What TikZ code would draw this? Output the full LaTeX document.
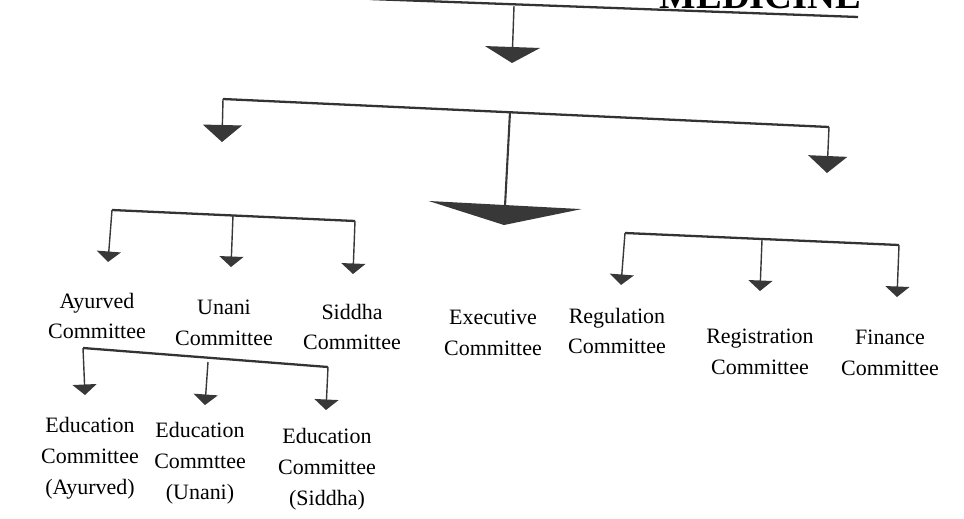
\documentclass[tikz,border=0pt]{standalone}
\usepackage{fontspec}
\setmainfont{Liberation Serif}
\usetikzlibrary{arrows.meta}

\begin{document}
\begin{tikzpicture}[x=0.02cm,y=-0.02cm]
            \tikzstyle{every node}=[align=center,inner sep=0pt,font=\fontsize{12.5}{17.5}\selectfont]
            \tikzstyle{bar}=[line width=1.3pt,draw=black!80]
            \tikzstyle{drop}=[line width=0.8pt,draw=black!78]
            \tikzstyle{tipsmall}=[drop,-{Triangle[width=0.48cm,length=0.21cm]}]
            \tikzstyle{tipside}=[drop,-{Triangle[width=0.78cm,length=0.34cm]}]
            \tikzstyle{tiphead}=[drop,-{Triangle[width=1.1cm,length=0.32cm]}]
            \tikzstyle{tipbig}=[drop,line width=1.2pt,-{Triangle[width=3.06cm,length=0.4cm]}]
            \useasboundingbox (0,0) rectangle (964,518);
            \clip (0,0) rectangle (964,518);
            % heading
            \node[anchor=base east,font=\fontsize{22}{22}\selectfont\bfseries] (title) at (862,8) {MEDICINE};
            \coordinate (hd-l) at (370,-1);
            \coordinate (hd-r) at (858,17);
            \coordinate (hd-j) at (514,6);
            \coordinate (hd-t) at (512,63);
            \draw[bar] (hd-l) -- (hd-r);
            \draw[tiphead] (hd-j) -- (hd-t);
            % first level
            \coordinate (c-l) at (223,99);
            \coordinate (c-r) at (829,127);
            \coordinate (c-j) at (510,112);
            \coordinate (c-lt) at (222,142);
            \coordinate (c-rt) at (827,173);
            \coordinate (c-jt) at (504,225);
            \draw[bar] (c-l) -- (c-r);
            \draw[tipside] (c-l) -- (c-lt);
            \draw[tipside] (c-r) -- (c-rt);
            \draw[tipbig] (c-j) -- (c-jt);
            % systems
            \coordinate (s-l) at (112,210);
            \coordinate (s-r) at (355,221);
            \coordinate (s-j) at (233,215);
            \coordinate (s-lt) at (108,262);
            \coordinate (s-jt) at (231,267);
            \coordinate (s-rt) at (353,274);
            \draw[bar] (s-l) -- (s-r);
            \draw[tipsmall] (s-l) -- (s-lt);
            \draw[tipsmall] (s-j) -- (s-jt);
            \draw[tipsmall] (s-r) -- (s-rt);
            % general committees
            \coordinate (g-l) at (625,233);
            \coordinate (g-r) at (899,245);
            \coordinate (g-j) at (762,240);
            \coordinate (g-lt) at (621,285);
            \coordinate (g-jt) at (760,291);
            \coordinate (g-rt) at (897,297);
            \draw[bar] (g-l) -- (g-r);
            \draw[tipsmall] (g-l) -- (g-lt);
            \draw[tipsmall] (g-j) -- (g-jt);
            \draw[tipsmall] (g-r) -- (g-rt);
            \node (ayurved) at (97,316) {Ayurved\\Committee};
            \node (unani) at (224,323) {Unani\\Committee};
            \node (siddha) at (352,327) {Siddha\\Committee};
            \node (executive) at (493,333) {Executive\\Committee};
            \node (regulation) at (617,331) {Regulation\\Committee};
            \node (registration) at (760,352) {Registration\\Committee};
            \node (finance) at (890,353) {Finance\\Committee};
            % education
            \coordinate (e-l) at (83,348);
            \coordinate (e-r) at (328,367);
            \coordinate (e-j) at (208,362);
            \coordinate (e-lt) at (85,395);
            \coordinate (e-jt) at (205,405);
            \coordinate (e-rt) at (326,410);
            \draw[bar] (e-l) -- (e-r);
            \draw[tipsmall] (e-l) -- (e-lt);
            \draw[tipsmall] (e-j) -- (e-jt);
            \draw[tipsmall] (e-r) -- (e-rt);
            \node (edu-a) at (90,458) {Education\\Committee\\(Ayurved)};
            \node (edu-u) at (200,463) {Education\\Commttee\\(Unani)};
            \node (edu-s) at (327,469) {Education\\Committee\\(Siddha)};
\end{tikzpicture}
\end{document}
